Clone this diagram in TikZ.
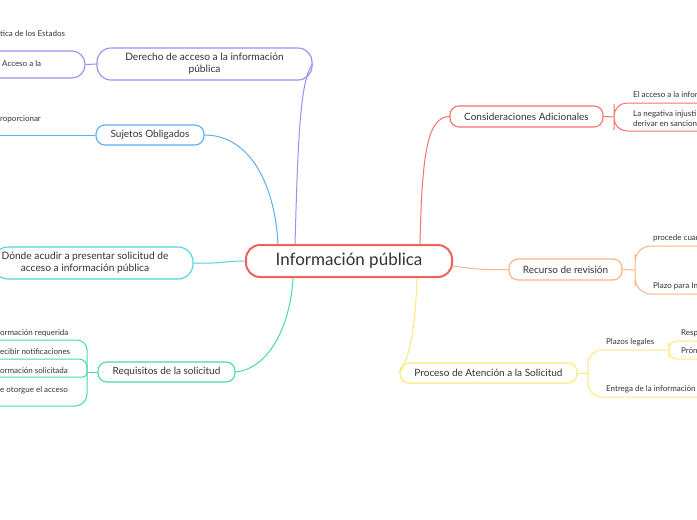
\documentclass[tikz,border=0pt]{standalone}
\usepackage{fontspec}
\setmainfont{Lato}
\definecolor{ink}{HTML}{333333}
\definecolor{cRed}{HTML}{F0605D}
\definecolor{cPurple}{HTML}{9C8CF6}
\definecolor{cBlue}{HTML}{5BAEF2}
\definecolor{cCyan}{HTML}{4DD4DE}
\definecolor{cGreen}{HTML}{45DBA8}
\definecolor{cSalmon}{HTML}{F7726C}
\definecolor{cOrange}{HTML}{FFB380}
\definecolor{cYellow}{HTML}{FFE77A}
\begin{document}
\begin{tikzpicture}[x=1pt,y=-1pt,
  txt/.style={text=ink, inner sep=0pt, anchor=west, font=\fontsize{8}{9.5}\selectfont},
  topic/.style={draw=#1, line width=1.1pt, rounded corners=9pt, fill=white, text=ink, inner sep=0pt, font=\fontsize{10}{12}\selectfont},
  leafbox/.style={draw=#1, line width=1.1pt, inner sep=0pt},
  conn/.style={draw=#1, line width=1pt},
]
\useasboundingbox[fill=white] (0,0) rectangle (697,520);

% central
\node[draw=cRed, line width=2pt, rounded corners=14pt, minimum width=206pt, minimum height=32pt, text=ink, font=\fontsize{17}{20}\selectfont] (c) at (349,261) {Información pública};

% Derecho de acceso
\node[topic=cPurple, minimum width=215pt, minimum height=32pt, rounded corners=14pt, align=center, font=\fontsize{10.2}{12}\selectfont] (der) at (204.5,64) {Derecho de acceso a la información\\pública};
\node[leafbox=cPurple, rounded corners=13pt, minimum width=120pt, minimum height=27pt] (acc) at (25,64.5) {};
\node[txt] (acct) at (2,64) {Acceso a la};
\node[txt] (est) at (0,34) {tica de los Estados};
\draw[conn=cPurple] (acc.east) -- (der.west);
\draw[conn=cPurple] ([xshift=-54pt]c.north) .. controls (298,140) and (300,80) .. (der.east);

% Sujetos obligados
\node[topic=cBlue, minimum width=108pt, minimum height=20pt] (suj) at (150,135) {Sujetos Obligados};
\coordinate (sujl) at (-5,135);
\node[txt] (sujt) at (0,119) {roporcionar};
\draw[conn=cBlue] (suj.west) -- (sujl);
\draw[conn=cBlue] (suj.east) .. controls (250,135) and (275,185) .. ([xshift=-71pt]c.north);

% Donde acudir
\node[leafbox=cCyan, rounded corners=15pt, minimum width=200pt, minimum height=32pt] (don) at (93,263) {};
\node[text=ink, inner sep=0pt, align=center, font=\fontsize{10.2}{12}\selectfont] (dont) at (85,263) {Dónde acudir a presentar solicitud de\\acceso a información pública};
\draw[conn=cCyan] (don.east) .. controls (222,264) and (222,261) .. (c.west);

% Requisitos
\node[topic=cGreen, minimum width=137pt, minimum height=20pt] (req) at (166.5,372) {Requisitos de la solicitud};
\coordinate (reqs) at (87,372);
\coordinate (rq1) at (-5,340);
\coordinate (rq2) at (-5,359);
\coordinate (rq3) at (-5,377);
\coordinate (rq4) at (-5,406);
\draw[conn=cGreen] (req.west) -- (reqs);
\draw[conn=cGreen, rounded corners=10pt] (rq1) -| (reqs);
\draw[conn=cGreen, rounded corners=8pt] (rq2) -| (reqs);
\draw[conn=cGreen, rounded corners=4pt] (rq3) -| (reqs);
\draw[conn=cGreen, rounded corners=12pt] (rq4) -| (reqs);
\node[txt] (r1) at (0,333) {ormación requerida};
\node[txt] (r2) at (0,352) {ecibir notificaciones};
\node[txt] (r3) at (0,371) {ormación solicitada};
\node[txt] (r4) at (0,390) {e otorgue el acceso};
\draw[conn=cGreen] (req.east) .. controls (272,368) and (291,320) .. ([xshift=-56pt]c.south);

% Consideraciones adicionales
\node[topic=cSalmon, minimum width=153pt, minimum height=21pt] (con) at (526.5,116.5) {Consideraciones Adicionales};
\coordinate (cons) at (614,117);
\coordinate (con1) at (705,103);
\coordinate (con2) at (705,131);
\draw[conn=cSalmon] (con.east) -- (cons);
\draw[conn=cSalmon, rounded corners=13pt] (con1) -| (cons) |- (con2);
\node[txt] (k1) at (633,95) {El acceso a la infor};
\node[txt] (k2) at (633,114) {La negativa injusti};
\node[txt] (k3) at (633,124) {derivar en sancion};
\draw[conn=cSalmon] ([xshift=71pt]c.north) .. controls (422,150) and (428,117) .. (con.west);

% Recurso de revision
\node[topic=cOrange, minimum width=113pt, minimum height=21pt] (rec) at (565.5,269.5) {Recurso de revisión};
\coordinate (recs) at (635,270);
\coordinate (rec1) at (705,246);
\coordinate (rec2) at (705,294);
\draw[conn=cOrange] (rec.east) -- (recs);
\draw[conn=cOrange, rounded corners=16pt] (rec1) -| (recs) |- (rec2);
\node[txt] (v1) at (653,238) {procede cuan};
\node[txt] (v2) at (653,286) {Plazo para In};
\draw[conn=cOrange] ([yshift=-5pt]c.east) .. controls (482,270) and (488,270) .. (rec.west);

% Proceso de atencion
\node[topic=cYellow, minimum width=177pt, minimum height=20pt] (pro) at (488.5,373) {Proceso de Atención a la Solicitud};
\coordinate (pros) at (588,373);
\coordinate (plz) at (669,350);
\coordinate (pb) at (705,397);
\coordinate (ps1) at (705,341);
\coordinate (ps2) at (705,359);
\draw[conn=cYellow] (pro.east) -- (pros);
\draw[conn=cYellow, rounded corners=14pt] (plz) -| (pros) |- (pb);
\draw[conn=cYellow, rounded corners=8pt] (ps1) -| (plz) |- (ps2);
\node[txt] (p1) at (606,342) {Plazos legales};
\node[txt] (p2) at (606,389) {Entrega de la información};
\node[txt] (p3) at (681,333) {Resp};
\node[txt] (p4) at (681,351) {Prón};
\draw[conn=cYellow] ([xshift=68pt]c.south) .. controls (415,340) and (407,362) .. (pro.west);
\end{tikzpicture}
\end{document}
